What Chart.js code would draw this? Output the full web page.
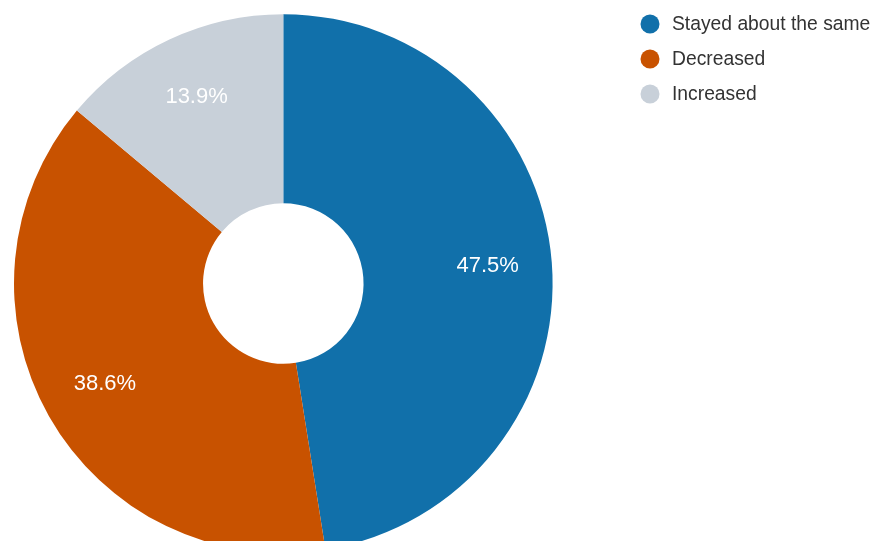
<!DOCTYPE html>
<html>
<head>
<meta charset="utf-8">
<script src="https://cdn.jsdelivr.net/npm/chart.js@4/dist/chart.umd.min.js"></script>
<style>
  html, body { margin: 0; padding: 0; background: #fff; overflow: hidden; }
  #frame { width: 873px; height: 541px; overflow: hidden; position: relative; }
  #wrap { width: 873px; height: 567px; position: absolute; left: 0; top: 0; }
</style>
</head>
<body>
<div id="frame"><div id="wrap"><canvas id="changeChart"></canvas></div></div>
<script>
const categories = ['Stayed about the same', 'Decreased', 'Increased'];
const shares = [47.5, 38.6, 13.9];
const colors = ['#1170aa', '#c85200', '#c8d0d9'];

// percentage text inside each slice
const sliceLabels = {
  id: 'sliceLabels',
  afterDatasetsDraw(chart) {
    const ctx = chart.ctx;
    const meta = chart.getDatasetMeta(0);
    ctx.save();
    ctx.font = '22px "Liberation Sans", Arial, sans-serif';
    ctx.fillStyle = '#ffffff';
    ctx.textAlign = 'center';
    ctx.textBaseline = 'middle';
    meta.data.forEach((arc, i) => {
      const p = arc.getProps(['x', 'y', 'startAngle', 'endAngle', 'innerRadius', 'outerRadius']);
      const mid = (p.startAngle + p.endAngle) / 2;
      const r = p.innerRadius + (p.outerRadius - p.innerRadius) * 0.66;
      const value = chart.data.datasets[0].data[i];
      ctx.fillText(value.toFixed(1) + '%', p.x + Math.cos(mid) * r, p.y + Math.sin(mid) * r - 1);
    });
    ctx.restore();
  },
};

// legend drawn in the right-hand margin
const sideLegend = {
  id: 'sideLegend',
  afterDraw(chart) {
    const ctx = chart.ctx;
    const ds = chart.data.datasets[0];
    ctx.save();
    ctx.font = '19.3px "Liberation Sans", Arial, sans-serif';
    ctx.textBaseline = 'middle';
    chart.data.labels.forEach((label, i) => {
      const y = 24 + i * 35;
      ctx.fillStyle = ds.backgroundColor[i];
      ctx.beginPath();
      ctx.arc(650, y, 9.5, 0, Math.PI * 2);
      ctx.fill();
      ctx.fillStyle = '#333333';
      ctx.fillText(label, 672, y + 1);
    });
    ctx.restore();
  },
};

new Chart(document.getElementById('changeChart'), {
  type: 'doughnut',
  data: {
    labels: categories,
    datasets: [
      {
        data: shares,
        backgroundColor: colors,
        borderWidth: 0,
        radius: 269.3,
        cutout: '29.8%',
      },
    ],
  },
  options: {
    responsive: true,
    maintainAspectRatio: false,
    animation: false,
    layout: { padding: { left: 0, top: 0, bottom: 0, right: 306.4 } },
    plugins: {
      legend: { display: false },
      tooltip: { enabled: false },
    },
  },
  plugins: [sliceLabels, sideLegend],
});
</script>
</body>
</html>
